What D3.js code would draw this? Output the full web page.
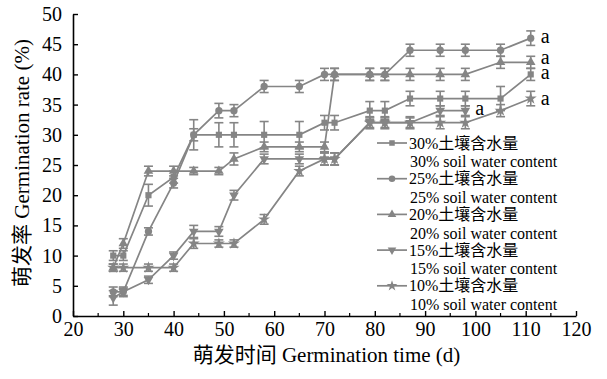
<!DOCTYPE html>
<html><head><meta charset="utf-8">
<script src="https://cdn.jsdelivr.net/npm/d3@7/dist/d3.min.js"></script>
<style>body{margin:0;background:#fff}svg{display:block}</style>
</head><body>
<svg id="c" width="607" height="379"></svg>
<script>
const days = [28, 30, 35, 40, 44, 49, 52, 58, 65, 70, 72, 79, 82, 87, 93, 98, 105, 111];
const v30 = [10, 10, 20, 23, 30, 30, 30, 30, 30, 32, 32, 34, 34, 36, 36, 36, 36, 40];
const e30 = [0.8, 0.8, 1.8, 1, 1, 2, 2, 2.2, 2.2, 1.2, 1.2, 1.5, 1.5, 1.2, 1.2, 1.2, 2, 1];
const v25 = [4, 4, 14, 22, 30, 34, 34, 38, 38, 40, 40, 40, 40, 44, 44, 44, 44, 46];
const e25 = [0.8, 0.8, 0.6, 0.8, 2.5, 1.2, 1, 1, 1, 1, 1, 1, 1, 1, 1, 1, 1, 1.2];
const v20 = [8, 12, 24, 24, 24, 24, 26, 28, 28, 28, 40, 40, 40, 40, 40, 40, 42, 42];
const e20 = [0.6, 0.8, 0.8, 0.8, 0.6, 0.6, 1, 0.8, 0.8, 0.8, 1, 1, 1, 1, 1, 1, 1, 1];
const v15 = [3, 4, 6, 10, 14, 14, 20, 26, 26, 26, 26, 32, 32, 32, 34, 34, null, null];
const e15 = [1.2, 0.6, 0.6, 0.6, 1, 0.8, 0.8, 0.8, 0.8, 1, 1, 0.8, 0.8, 0.8, 0.8, 0.8, 0, 0];
const v10 = [8, 8, 8, 8, 12, 12, 12, 16, 24, 26, 26, 32, 32, 32, 32, 32, 34, 36];
const e10 = [0.6, 0.6, 0.6, 0.6, 0.8, 0.6, 0.6, 0.8, 0.8, 1, 1, 1, 1, 1, 1, 1, 1, 1.2];
const seriesCN = ["30%土壤含水量", "25%土壤含水量", "20%土壤含水量", "15%土壤含水量", "10%土壤含水量"];
const seriesEN = ["30% soil water content", "25% soil water content", "20% soil water content", "15% soil water content", "10% soil water content"];
const xTicks = [20, 30, 40, 50, 60, 70, 80, 90, 100, 110, 120];
const yTicks = [0, 5, 10, 15, 20, 25, 30, 35, 40, 45, 50];
const sigLabels = ["a", "a", "a", "a", "a"];

const values = [v30, v25, v20, v15, v10];
const errs = [e30, e25, e20, e15, e10];
const symbols = [d3.symbolSquare, d3.symbolCircle, d3.symbolTriangle, d3.symbolTriangle, d3.symbolStar];
const symRot = [0, 0, 0, 180, 0];
const symSize = [38, 42, 40, 40, 45];

const col = "#858585";
const serif = "'Liberation Serif','Times New Roman','Noto Sans CJK SC',serif";
const svg = d3.select("#c");
const x = d3.scaleLinear().domain([20, 120]).range([73, 576]);
const y = d3.scaleLinear().domain([0, 50]).range([316, 14]);

// axes
const xAxis = svg.append("g").attr("transform", `translate(0,${y(0)})`)
  .call(d3.axisBottom(x).tickValues(xTicks).tickSizeInner(-5).tickSizeOuter(0).tickPadding(13).tickFormat(d3.format("d")));
const yAxis = svg.append("g").attr("transform", `translate(${x(20)},0)`)
  .call(d3.axisLeft(y).tickValues(yTicks).tickSizeInner(-5).tickSizeOuter(0).tickPadding(11).tickFormat(d3.format("d")));
[xAxis, yAxis].forEach(g => {
  g.select(".domain").attr("stroke", "#000").attr("stroke-width", 1.6);
  g.selectAll(".tick line").attr("stroke", "#000").attr("stroke-width", 1.4);
  g.selectAll(".tick text").attr("font-family", serif).attr("font-size", 20).attr("fill", "#000");
});
xAxis.selectAll(".tick text").attr("dy", "0.35em");
// minor x ticks
svg.append("g").selectAll("line").data(d3.range(25, 120, 10)).join("line")
  .attr("x1", d => x(d)).attr("x2", d => x(d)).attr("y1", y(0)).attr("y2", y(0) - 3)
  .attr("stroke", "#000").attr("stroke-width", 1.2);

// series
values.forEach((vals, si) => {
  const pts = days.map((d, i) => ({d, v: vals[i], e: errs[si][i]})).filter(p => p.v !== null);
  const g = svg.append("g");
  g.append("path").datum(pts)
    .attr("d", d3.line().x(p => x(p.d)).y(p => y(p.v)))
    .attr("fill", "none").attr("stroke", col).attr("stroke-width", 1.7);
  const eb = g.selectAll("g.eb").data(pts).join("g").attr("class", "eb");
  eb.append("line").attr("x1", p => x(p.d)).attr("x2", p => x(p.d))
    .attr("y1", p => y(p.v + p.e)).attr("y2", p => y(p.v - p.e)).attr("stroke", col).attr("stroke-width", 1.6);
  eb.append("line").attr("x1", p => x(p.d) - 4.5).attr("x2", p => x(p.d) + 4.5)
    .attr("y1", p => y(p.v + p.e)).attr("y2", p => y(p.v + p.e)).attr("stroke", col).attr("stroke-width", 1.6);
  eb.append("line").attr("x1", p => x(p.d) - 4.5).attr("x2", p => x(p.d) + 4.5)
    .attr("y1", p => y(p.v - p.e)).attr("y2", p => y(p.v - p.e)).attr("stroke", col).attr("stroke-width", 1.6);
  g.selectAll("path.m").data(pts).join("path").attr("class", "m")
    .attr("d", d3.symbol().type(symbols[si]).size(symSize[si]))
    .attr("transform", p => `translate(${x(p.d)},${y(p.v)}) rotate(${symRot[si]})`)
    .attr("fill", col);
});

// significance letters
const lastPts = values.map(vals => {
  let i = vals.length - 1; while (vals[i] === null) i--; return {d: days[i], v: vals[i]};
});
const letterOffsetY = [-1, -1, -4, -2, 0];
svg.append("g").selectAll("text").data(lastPts).join("text")
  .attr("x", (p) => x(p.d) + 10).attr("y", (p, i) => y(p.v) + letterOffsetY[i])
  .attr("dy", "0.3em").attr("font-family", serif).attr("font-size", 20).attr("fill", "#000")
  .text((p, i) => sigLabels[i]);

// legend
const lg = svg.append("g");
const legY0 = 143, legStep = 35.7;
seriesCN.forEach((t, i) => {
  const yy = legY0 + i * legStep;
  lg.append("line").attr("x1", 377).attr("x2", 407).attr("y1", yy).attr("y2", yy).attr("stroke", col).attr("stroke-width", 1.7);
  lg.append("path").attr("d", d3.symbol().type(symbols[i]).size(symSize[i] * 0.8)())
    .attr("transform", `translate(392,${yy}) rotate(${symRot[i]})`).attr("fill", col);
  lg.append("text").attr("x", 409).attr("y", yy).attr("dy", "0.35em").attr("font-family", serif)
    .attr("font-size", 16).attr("fill", "#000").text(t);
  lg.append("text").attr("x", 410).attr("y", yy + 18.5).attr("dy", "0.35em").attr("font-family", serif)
    .attr("font-size", 16).attr("fill", "#000").text(seriesEN[i]);
});

// axis titles
svg.append("text").attr("x", (x(20) + x(120)) / 2 + 2).attr("y", 362).attr("text-anchor", "middle")
  .attr("font-family", serif).attr("font-size", 21).attr("fill", "#000").text("萌发时间 Germination time (d)");
svg.append("text").attr("transform", `translate(29,${(y(0) + y(50)) / 2 - 2}) rotate(-90)`).attr("text-anchor", "middle")
  .attr("font-family", serif).attr("font-size", 21).attr("fill", "#000").text("萌发率 Germination rate (%)");
</script>
</body></html>
